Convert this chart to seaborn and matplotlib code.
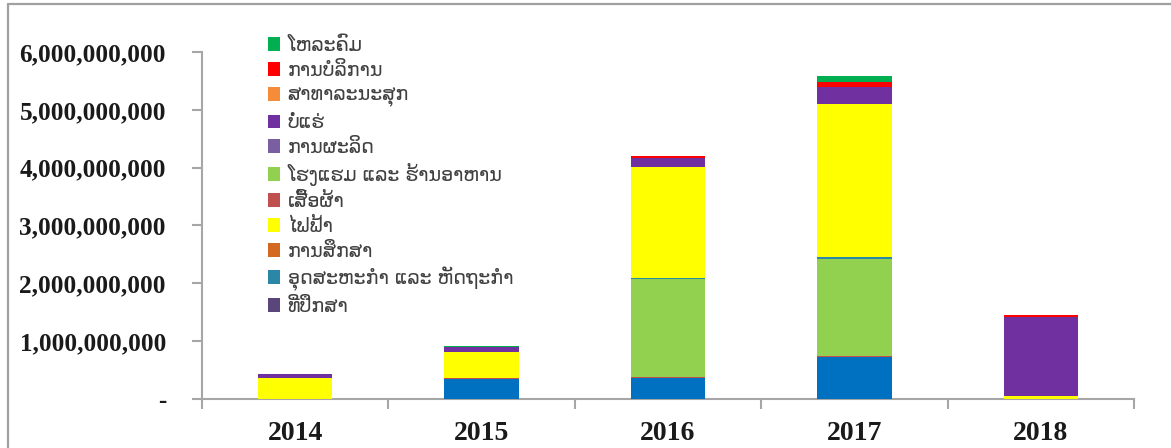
import matplotlib
matplotlib.use("Agg")
import matplotlib.pyplot as plt
import seaborn as sns
import numpy as np
from matplotlib.patches import Patch
from matplotlib.lines import Line2D
from matplotlib.ticker import FuncFormatter, FixedLocator

sns.set_theme(style="white")
plt.rcParams['font.family'] = ['DejaVu Sans']

years = ["2014", "2015", "2016", "2017", "2018"]

# series values (kip), bottom-to-top stacking order
agri      = [0.0,  0.35e9, 0.36e9, 0.73e9, 0.0]       # blue series (not in legend)
clothing  = [0.0,  0.02e9, 0.02e9, 0.02e9, 0.0]
hotel     = [0.0,  0.0,    1.69e9, 1.67e9, 0.0]
industry  = [0.0,  0.0,    0.03e9, 0.04e9, 0.0]
electric  = [0.37e9, 0.44e9, 1.92e9, 2.64e9, 0.05e9]
mining    = [0.07e9, 0.09e9, 0.15e9, 0.29e9, 1.36e9]
services  = [0.0,  0.0,    0.03e9, 0.09e9, 0.035e9]
telecom   = [0.0,  0.01e9, 0.01e9, 0.10e9, 0.01e9]
health    = [0.0, 0.0, 0.0, 0.0, 0.0]
manufact  = [0.0, 0.0, 0.0, 0.0, 0.0]
education = [0.0, 0.0, 0.0, 0.0, 0.0]
consult   = [0.0, 0.0, 0.0, 0.0, 0.0]

legend_labels = ["ໂຫລະຄົມ", "ການບໍລິການ", "ສາທາລະນະສຸກ", "ບໍ່ແຮ່", "ການຜະລິດ",
                 "ໂຮງແຮມ ແລະ ຮ້ານອາຫານ", "ເສື້ອຜ້າ", "ໄຟຟ້າ", "ການສຶກສາ",
                 "ອຸດສະຫະກຳ ແລະ ຫັດຖະກຳ", "ທີ່ປຶກສາ"]
legend_colors = ["#00B050", "#FF0000", "#F58C3A", "#7030A0", "#7A5FA0",
                 "#92D050", "#C0504D", "#FFFF00", "#D2691E",
                 "#2A88A6", "#5A467A"]

stack = [
    (agri, "#0070C0"),
    (consult, "#5A467A"),
    (education, "#D2691E"),
    (clothing, "#C0504D"),
    (hotel, "#92D050"),
    (industry, "#2A88A6"),
    (electric, "#FFFF00"),
    (manufact, "#7A5FA0"),
    (mining, "#7030A0"),
    (health, "#F58C3A"),
    (services, "#FF0000"),
    (telecom, "#00B050"),
]

fig = plt.figure(figsize=(11.71, 4.48), dpi=100)
ax = fig.add_axes([202/1171, 1-399/448, (1134-202)/1171, (399-52)/448])

bottom = np.zeros(len(years))
for vals, col in stack:
    v = np.array(vals)
    sns.barplot(x=years, y=v, bottom=bottom, color=col, saturation=1,
                width=0.4, ax=ax, linewidth=0, zorder=3)
    bottom = bottom + v

ax.set_xlim(-0.5, 4.5)
ax.set_ylim(0, 6e9)
ax.set_yticks(np.arange(0, 6.01e9, 1e9))
ax.yaxis.set_major_formatter(FuncFormatter(lambda v, p: "-" if v == 0 else f"{int(round(v)):,}"))
ax.set_xlabel("")
ax.set_ylabel("")

gray = "#A6A6A6"
for s in ["top", "right"]:
    ax.spines[s].set_visible(False)
for s in ["left", "bottom"]:
    ax.spines[s].set_color(gray)
    ax.spines[s].set_linewidth(1.5)

ax.tick_params(axis="y", which="major", length=7, width=1.5, color=gray, direction="out",
               left=True, pad=19)
ax.tick_params(axis="x", which="major", length=0, pad=16)
ax.xaxis.set_minor_locator(FixedLocator(np.arange(-0.5, 4.6, 1.0)))
ax.tick_params(axis="x", which="minor", length=7, width=1.5, color=gray, direction="out", bottom=True)

for lab in ax.get_yticklabels():
    lab.set_fontfamily(["Liberation Serif"])
    lab.set_fontweight("bold")
    lab.set_fontsize(18.2)
    lab.set_color("#1a1a1a")
for lab in ax.get_xticklabels():
    lab.set_fontfamily(["Liberation Serif"])
    lab.set_fontweight("bold")
    lab.set_fontsize(20)
    lab.set_color("#1a1a1a")

handles = [Patch(facecolor=c, edgecolor="none") for c in legend_colors]
leg = ax.legend(handles, legend_labels, loc="upper left",
                bbox_to_anchor=(58/932, 1 + 24/347), frameon=False,
                fontsize=13.7, handlelength=0.65, handleheight=0.75,
                handletextpad=0.4, labelspacing=0.31, borderaxespad=0)
for t in leg.get_texts():
    t.set_color("#404040")

# outer chart frame (left and top edges visible)
fig.add_artist(Line2D([8/1171, 8/1171], [0, 1-4/448], transform=fig.transFigure,
                      color="#A0A0A0", lw=1.6))
fig.add_artist(Line2D([8/1171, 1], [1-4/448, 1-4/448], transform=fig.transFigure,
                      color="#A0A0A0", lw=1.6))

fig.savefig("out.png", dpi=100, facecolor="white")
